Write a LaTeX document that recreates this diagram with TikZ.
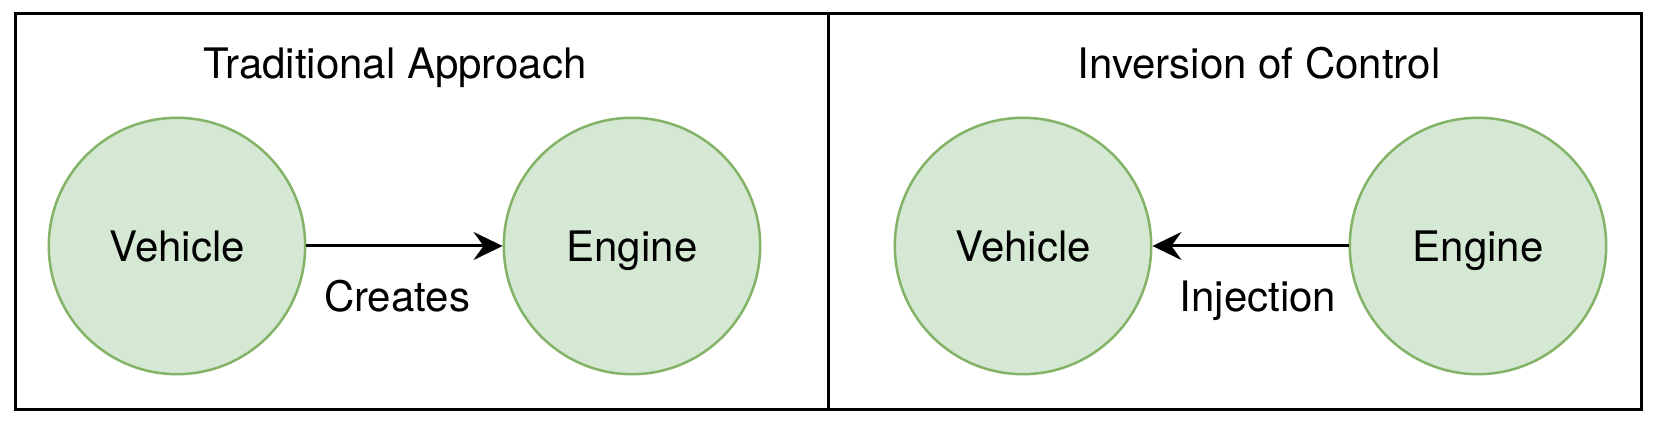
\documentclass[tikz,border=0pt]{standalone}
\usepackage{fontspec}
\setmainfont{TeX Gyre Heros}
\usetikzlibrary{arrows.meta}
\definecolor{gfill}{HTML}{D5E8D4}
\definecolor{gline}{HTML}{82B366}
\begin{document}
\begin{tikzpicture}[x=0.5pt,y=-0.5pt,
  panel/.style={draw=black,line width=1.5pt},
  ball/.style={circle,draw=gline,fill=gfill,line width=1.25pt,minimum size=128.2pt,inner sep=0pt,
    font=\fontsize{21}{24}\selectfont,text height=15.04pt,text depth=0pt},
  lbl/.style={font=\fontsize{21}{24}\selectfont,anchor=base,inner sep=0pt},
  conn/.style={line width=1.5pt,-{Stealth[length=14.5pt,width=14pt,inset=5pt]}}]
\useasboundingbox (0,0) rectangle (1656,426);
\fill[white] (0,0) rectangle (1656,426);
\draw[panel] (15,13.5) rectangle (828,409.5);
\draw[panel] (828,13.5) rectangle (1641,409.5);
\node[lbl] (t1) at (395,79) {Traditional Approach};
\node[lbl] (t2) at (1259,79) {Inversion of Control};
\node[ball] (v1) at (177,246) {Vehicle};
\node[ball] (e1) at (632,246) {Engine};
\node[ball] (v2) at (1023,246) {Vehicle};
\node[ball] (e2) at (1478,246) {Engine};
\draw[conn] (v1) -- (e1);
\draw[conn] (e2) -- (v2);
\node[lbl] (c1) at (397,311.5) {Creates};
\node[lbl] (c2) at (1258,311.5) {Injection};
\end{tikzpicture}
\end{document}
